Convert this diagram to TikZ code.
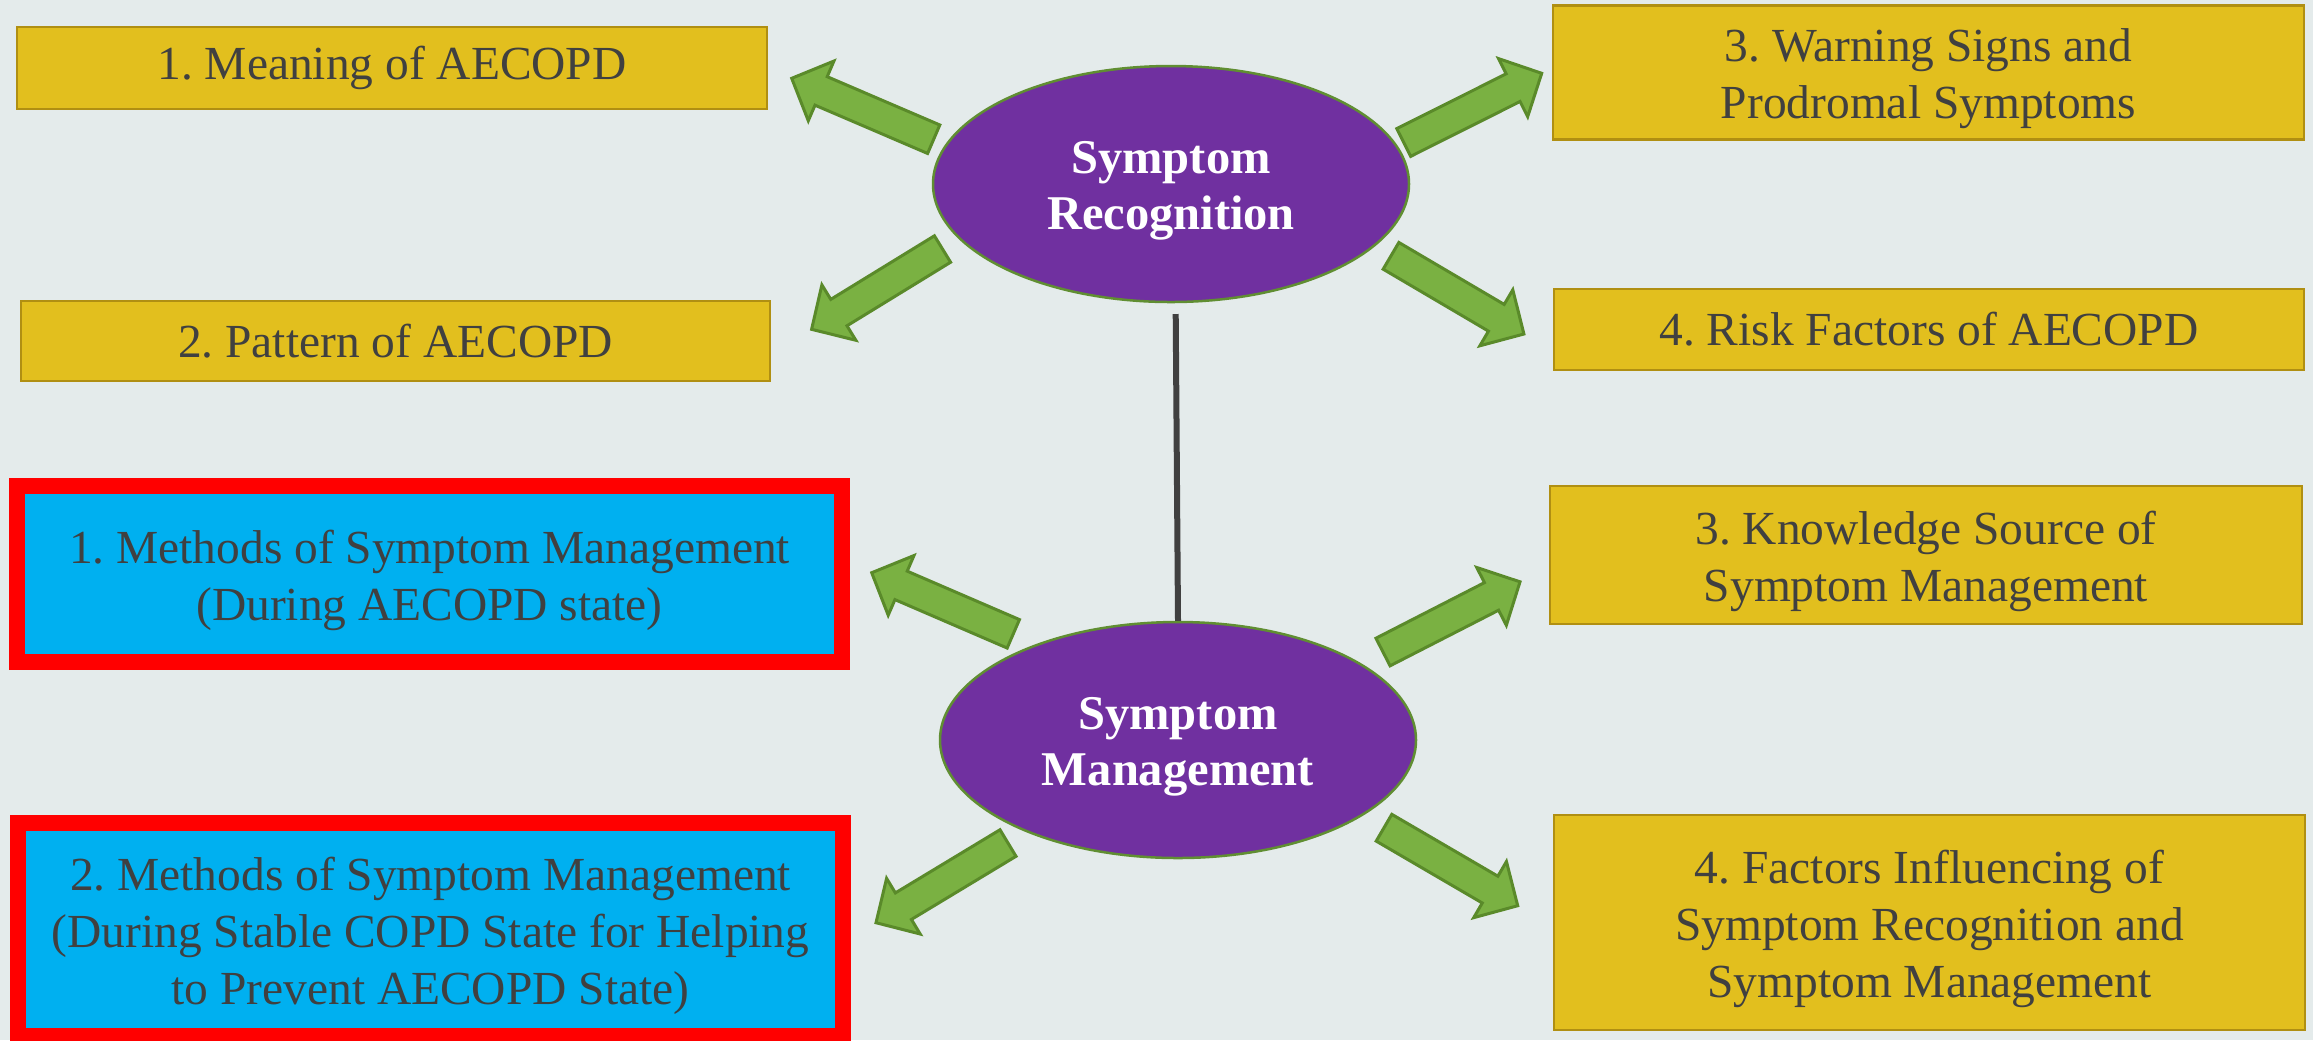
\documentclass[tikz,border=0pt]{standalone}
\usepackage{fontspec}
\setmainfont{Liberation Serif}
\frenchspacing
\usetikzlibrary{calc,shapes.geometric}
\definecolor{bgc}{RGB}{228,235,235}
\definecolor{goldf}{RGB}{226,191,30}
\definecolor{goldb}{RGB}{176,143,18}
\definecolor{txt}{RGB}{64,64,64}
\definecolor{bluef}{RGB}{0,176,240}
\definecolor{redb}{RGB}{255,0,0}
\definecolor{purp}{RGB}{112,48,160}
\definecolor{ellb}{RGB}{96,142,50}
\definecolor{arrf}{RGB}{122,177,66}
\definecolor{arrb}{RGB}{90,138,42}
\tikzset{
  boxfont/.style={font=\frenchspacing\fontsize{13.5}{16.2}\selectfont},
  goldbox/.style={boxfont, draw=goldb, line width=0.25mm, fill=goldf, text=txt, align=center, inner sep=0pt},
  redbox/.style={boxfont, draw=redb, line width=1.6mm, fill=bluef, text=txt, align=center, inner sep=0pt},
  oval/.style={ellipse, draw=ellb, line width=0.25mm, fill=purp, text=white,
    font=\bfseries\fontsize{13.8}{15.9}\selectfont, align=center, inner sep=0pt,
    minimum width=47.6mm, minimum height=23.6mm},
  garrow/.style={draw=arrb, fill=arrf, line width=0.3mm, line join=miter},
  linkline/.style={draw=txt, line width=0.6mm},
}
\newcommand{\lowtext}[1]{\raisebox{-0.65mm}[\height][\depth]{\begin{tabular}{@{}c@{}}#1\end{tabular}}}
\newcommand{\blockarrow}[2]{%
  \coordinate (hb) at ($(#2)!3.2mm!(#1)$);
  \draw[garrow] ($(#1)!1.55mm!90:(#2)$) -- ($(hb)!1.55mm!90:(#2)$) -- ($(hb)!3.25mm!90:(#2)$) -- (#2)
    -- ($(hb)!3.25mm!-90:(#2)$) -- ($(hb)!1.55mm!-90:(#2)$) -- ($(#1)!1.55mm!-90:(#2)$) -- cycle;
}
\begin{document}
\begin{tikzpicture}[x=0.1mm, y=-0.1mm]
\fill[bgc] (0,0) rectangle (2313,1040);
\useasboundingbox (0,0) rectangle (2313,1040);

% boxes
\node[goldbox, minimum width=75mm, minimum height=8.2mm] (b1) at (392,68) {1. Meaning of AECOPD};
\node[goldbox, minimum width=74.9mm, minimum height=8mm] (b2) at (395.5,341) {2. Pattern of AECOPD};
\node[goldbox, minimum width=75.1mm, minimum height=13.4mm] (b3) at (1928.5,72.5) {\lowtext{3. Warning Signs and\\Prodromal Symptoms}};
\node[goldbox, minimum width=75mm, minimum height=8.1mm] (b4) at (1929,329.5) {4. Risk Factors of AECOPD};
\node[goldbox, minimum width=75.2mm, minimum height=13.8mm] (b5) at (1926,555) {\lowtext{3. Knowledge Source of\\Symptom Management}};
\node[goldbox, minimum width=75.1mm, minimum height=21.5mm] (b6) at (1929.5,922.5) {\lowtext{4. Factors Influencing of\\Symptom Recognition and\\Symptom Management}};
\node[redbox, minimum width=82.5mm, minimum height=17.6mm] (m1) at (429.5,574) {\lowtext{1. Methods of Symptom Management\\(During AECOPD state)}};
\node[redbox, minimum width=82.5mm, minimum height=21.3mm] (m2) at (430.5,929.5) {\lowtext{2. Methods of Symptom Management\\(During Stable COPD State for Helping\\to Prevent AECOPD State)}};

% ellipses
\node[oval] (rec) at (1171,184) {\lowtext{Symptom\\Recognition}};
\node[oval] (man) at (1178,740) {\lowtext{Symptom\\Management}};

% link line
\coordinate (ltop) at (1175.7,314);
\draw[linkline] (ltop) -- (man.north);

% arrow end points
\coordinate (a1s) at (933.7,139.2);  \coordinate (a1e) at (791.7,78.3);
\coordinate (a2s) at (942.5,249);    \coordinate (a2e) at (811.6,329.3);
\coordinate (a3s) at (1403.7,142.5); \coordinate (a3e) at (1541.7,73.3);
\coordinate (a4s) at (1391,255.8);   \coordinate (a4e) at (1523.9,334);
\coordinate (a5s) at (1013.3,633.8); \coordinate (a5e) at (871.7,572.7);
\coordinate (a6s) at (1008,843);     \coordinate (a6e) at (876,922.7);
\coordinate (a7s) at (1383,652);     \coordinate (a7e) at (1520,581.8);
\coordinate (a8s) at (1384,827.7);   \coordinate (a8e) at (1517.7,905.7);
\blockarrow{a1s}{a1e}
\blockarrow{a2s}{a2e}
\blockarrow{a3s}{a3e}
\blockarrow{a4s}{a4e}
\blockarrow{a5s}{a5e}
\blockarrow{a6s}{a6e}
\blockarrow{a7s}{a7e}
\blockarrow{a8s}{a8e}
\end{tikzpicture}
\end{document}
